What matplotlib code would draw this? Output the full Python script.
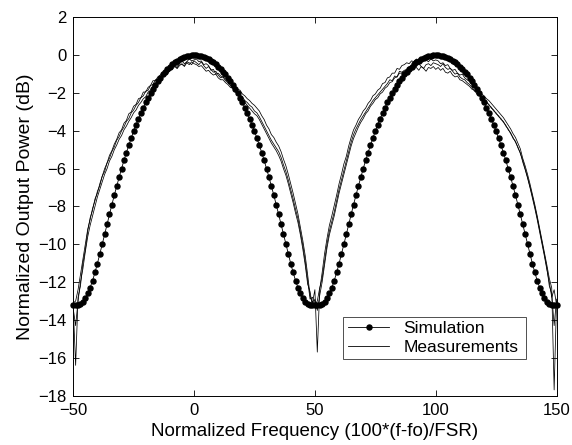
import numpy as np
import matplotlib
matplotlib.use("Agg")
import matplotlib.pyplot as plt

'''Data read off the reference figure (1 unit steps in frequency)'''
freq = np.arange(-50, 151)

sim_db = [-13.23, -13.23, -13.21, -13.14, -13.03, -12.85, -12.60, -12.29, -11.92, -11.49,
          -11.02, -10.52, -10.00, -9.47, -8.94, -8.42, -7.90, -7.40, -6.92, -6.45,
          -6.00, -5.56, -5.15, -4.76, -4.38, -4.02, -3.68, -3.36, -3.06, -2.77,
          -2.50, -2.24, -2.00, -1.78, -1.57, -1.37, -1.19, -1.02, -0.87, -0.73,
          -0.60, -0.49, -0.38, -0.29, -0.21, -0.15, -0.10, -0.05, -0.02, -0.01,
          0.00,
          -0.01, -0.02, -0.05, -0.10, -0.15, -0.21, -0.29, -0.38, -0.49, -0.60,
          -0.73, -0.87, -1.02, -1.19, -1.37, -1.57, -1.78, -2.00, -2.24, -2.50,
          -2.77, -3.06, -3.36, -3.68, -4.02, -4.38, -4.76, -5.15, -5.56, -6.00,
          -6.45, -6.92, -7.40, -7.90, -8.42, -8.94, -9.47, -10.00, -10.52, -11.02,
          -11.49, -11.92, -12.29, -12.60, -12.85, -13.03, -13.14, -13.21, -13.23, -13.23,
          -13.23, -13.21, -13.14, -13.03, -12.85, -12.60, -12.29, -11.92, -11.49, -11.02,
          -10.52, -10.00, -9.47, -8.94, -8.42, -7.90, -7.40, -6.92, -6.45, -6.00,
          -5.56, -5.15, -4.76, -4.38, -4.02, -3.68, -3.36, -3.06, -2.77, -2.50,
          -2.24, -2.00, -1.78, -1.57, -1.37, -1.19, -1.02, -0.87, -0.73, -0.60,
          -0.49, -0.38, -0.29, -0.21, -0.15, -0.10, -0.05, -0.02, -0.01, 0.00,
          -0.01, -0.02, -0.05, -0.10, -0.15, -0.21, -0.29, -0.38, -0.49, -0.60,
          -0.73, -0.87, -1.02, -1.19, -1.37, -1.57, -1.78, -2.00, -2.24, -2.50,
          -2.77, -3.06, -3.36, -3.68, -4.02, -4.38, -4.76, -5.15, -5.56, -6.00,
          -6.45, -6.92, -7.40, -7.90, -8.42, -8.94, -9.47, -10.00, -10.52, -11.02,
          -11.49, -11.92, -12.29, -12.60, -12.85, -13.03, -13.14, -13.21, -13.23, -13.23]

meas_a = [-13.3, -16.4, -12.8, -12.2, -11.0, -10.3, -9.3, -8.6, -8.2, -7.6,
          -7.3, -6.8, -6.4, -6.0, -5.7, -5.3, -5.05, -4.7, -4.45, -4.1,
          -3.95, -3.6, -3.45, -3.1, -3.0, -2.7, -2.6, -2.3, -2.25, -1.95,
          -1.95, -1.7, -1.6, -1.35, -1.35, -1.15, -1.05, -0.95, -0.9, -0.7,
          -0.75, -0.55, -0.5, -0.6, -0.4, -0.3, -0.45, -0.35, -0.2, -0.3,
          -0.25,
          -0.2, -0.35, -0.3, -0.5, -0.45, -0.55, -0.8, -0.75, -1.0, -0.95,
          -1.1, -1.15, -1.25, -1.35, -1.4, -1.55, -1.6, -1.8, -1.85, -2.05,
          -2.15, -2.3, -2.4, -2.55, -2.65, -2.8, -2.95, -3.2, -3.4, -3.7,
          -3.9, -4.2, -4.35, -4.6, -4.8, -5.1, -5.5, -5.85, -6.3, -6.8,
          -7.3, -7.85, -8.4, -9.1, -9.8, -10.6, -11.6, -12.7, -13.1, -12.4,
          -15.7, -12.4, -11.5, -10.5, -9.7, -9.0, -8.5, -7.95, -7.4, -6.8,
          -6.3, -5.75, -5.35, -4.8, -4.35, -3.95, -3.7, -3.4, -3.2, -2.95,
          -2.8, -2.55, -2.4, -2.15, -2.05, -1.85, -1.75, -1.5, -1.45, -1.2,
          -1.15, -0.95, -0.95, -0.7, -0.75, -0.55, -0.5, -0.4, -0.45, -0.3,
          -0.35, -0.2, -0.4, -0.3, -0.15, -0.25, -0.35, -0.2, -0.3, -0.25,
          -0.3, -0.45, -0.4, -0.55, -0.5, -0.7, -0.8, -0.75, -0.95, -1.05,
          -1.0, -1.2, -1.3, -1.4, -1.55, -1.65, -1.85, -1.9, -2.05, -2.15,
          -2.3, -2.4, -2.55, -2.7, -2.85, -3.0, -3.15, -3.3, -3.5, -3.7,
          -3.9, -4.15, -4.35, -4.65, -4.95, -5.45, -5.85, -6.3, -6.8, -7.35,
          -7.9, -8.5, -9.15, -9.8, -10.45, -11.1, -11.8, -12.3, -17.7, -13.0]

meas_b = [-13.1, -13.0, -12.4, -11.6, -10.8, -10.0, -9.2, -8.7, -8.1, -7.7,
          -7.2, -6.9, -6.4, -6.15, -5.7, -5.45, -5.1, -4.85, -4.5, -4.3,
          -4.0, -3.8, -3.5, -3.35, -3.05, -2.9, -2.65, -2.5, -2.25, -2.15,
          -1.9, -1.85, -1.6, -1.55, -1.3, -1.3, -1.15, -1.0, -1.05, -0.8,
          -0.85, -0.65, -0.55, -0.7, -0.45, -0.5, -0.55, -0.35, -0.4, -0.5,
          -0.3,
          -0.4, -0.5, -0.35, -0.55, -0.7, -0.6, -0.75, -0.9, -0.85, -1.05,
          -1.2, -1.15, -1.35, -1.45, -1.6, -1.6, -1.85, -1.9, -2.1, -2.2,
          -2.4, -2.5, -2.65, -2.75, -2.95, -3.05, -3.25, -3.5, -3.75, -4.0,
          -4.25, -4.5, -4.7, -4.9, -5.1, -5.4, -5.8, -6.15, -6.6, -7.1,
          -7.6, -8.15, -8.65, -9.35, -10.05, -10.9, -11.9, -12.9, -12.8, -13.2,
          -13.0, -12.3, -11.8, -10.9, -10.0, -9.3, -8.8, -8.3, -7.7, -7.1,
          -6.6, -6.1, -5.6, -5.1, -4.6, -4.2, -3.9, -3.65, -3.4, -3.2,
          -3.0, -2.8, -2.6, -2.4, -2.25, -2.1, -1.95, -1.8, -1.65, -1.5,
          -1.3, -1.35, -1.1, -1.15, -0.85, -0.9, -0.8, -0.75, -0.6, -0.65,
          -0.5, -0.55, -0.45, -0.6, -0.7, -0.5, -0.45, -0.55, -0.4, -0.45,
          -0.5, -0.6, -0.45, -0.65, -0.75, -0.7, -0.85, -1.0, -0.95, -1.15,
          -1.25, -1.3, -1.45, -1.55, -1.7, -1.9, -1.95, -2.15, -2.2, -2.4,
          -2.45, -2.65, -2.75, -2.95, -3.05, -3.25, -3.35, -3.55, -3.7, -3.95,
          -4.1, -4.4, -4.55, -4.9, -5.15, -5.65, -6.05, -6.5, -7.0, -7.55,
          -8.1, -8.7, -9.35, -10.0, -10.65, -11.35, -12.0, -12.8, -12.4, -13.2]

meas_c = [-13.4, -14.3, -13.0, -12.0, -11.3, -10.4, -9.6, -9.0, -8.5, -8.0,
          -7.5, -7.1, -6.7, -6.3, -6.0, -5.6, -5.35, -5.0, -4.75, -4.45,
          -4.25, -3.95, -3.75, -3.5, -3.3, -3.05, -2.9, -2.65, -2.5, -2.3,
          -2.2, -1.95, -1.85, -1.6, -1.55, -1.3, -1.25, -1.15, -0.95, -1.0,
          -0.8, -0.75, -0.6, -0.7, -0.55, -0.45, -0.6, -0.4, -0.5, -0.35,
          -0.45,
          -0.5, -0.6, -0.55, -0.7, -0.85, -0.8, -0.95, -1.05, -1.0, -1.2,
          -1.3, -1.3, -1.45, -1.55, -1.7, -1.75, -1.95, -2.0, -2.2, -2.35,
          -2.5, -2.65, -2.8, -2.95, -3.1, -3.2, -3.4, -3.65, -3.9, -4.15,
          -4.4, -4.65, -4.85, -5.05, -5.3, -5.6, -6.0, -6.35, -6.8, -7.3,
          -7.8, -8.35, -8.85, -9.5, -10.25, -11.1, -12.1, -12.5, -13.3, -12.9,
          -13.5, -12.7, -12.0, -11.1, -10.2, -9.5, -9.0, -8.5, -7.9, -7.3,
          -6.8, -6.3, -5.8, -5.3, -4.8, -4.4, -4.1, -3.8, -3.55, -3.35,
          -3.1, -2.95, -2.7, -2.55, -2.35, -2.25, -2.05, -1.95, -1.75, -1.65,
          -1.45, -1.4, -1.2, -1.15, -0.95, -0.95, -0.85, -0.8, -0.75, -0.6,
          -0.7, -0.65, -0.8, -0.6, -0.7, -0.85, -0.65, -0.7, -0.6, -0.75,
          -0.65, -0.8, -0.7, -0.9, -0.95, -0.85, -1.05, -1.15, -1.1, -1.3,
          -1.35, -1.45, -1.55, -1.65, -1.8, -1.85, -2.05, -2.1, -2.25, -2.35,
          -2.5, -2.6, -2.8, -2.9, -3.1, -3.2, -3.4, -3.5, -3.75, -3.9,
          -4.15, -4.35, -4.6, -4.85, -5.2, -5.55, -6.0, -6.45, -6.95, -7.45,
          -8.0, -8.6, -9.25, -9.9, -10.55, -11.25, -12.2, -12.6, -14.3, -12.9]

x_ticks = [-50, 0, 50, 100, 150]
y_ticks = [-18, -16, -14, -12, -10, -8, -6, -4, -2, 0, 2]

plt.rcParams['font.family'] = ['Liberation Sans', 'DejaVu Sans']

fig = plt.figure(figsize=(5.72, 4.45), dpi=100)
ax = fig.add_axes([0.128, 0.111, 0.845, 0.850])

# measured traces, thin black lines
for trace in (meas_a, meas_b, meas_c):
    ax.plot(freq, trace, color='black', lw=0.55, zorder=2)
meas_handle, = ax.plot([], [], color='black', lw=0.6)

sim_handle, = ax.plot(freq, sim_db, color='black', lw=0.6, marker='o',
                      markersize=3.6, markerfacecolor='black',
                      markeredgecolor='black', clip_on=False, zorder=3)

ax.set_xlim(-50, 150)
ax.set_ylim(-18, 2)
ax.set_xticks(x_ticks)
ax.set_yticks(y_ticks)
ax.tick_params(direction='in', top=True, right=True, length=4,
               width=0.6, labelsize=12, pad=5)
for s in ax.spines.values():
    s.set_linewidth(0.7)

ax.set_xlabel('Normalized Frequency (100*(f-fo)/FSR)', fontsize=13.5, labelpad=4)
ax.set_ylabel('Normalized Output Power (dB)', fontsize=14, labelpad=3)

leg = ax.legend([sim_handle, meas_handle], ['Simulation', 'Measurements'],
                loc='lower left', bbox_to_anchor=(0.559, 0.096, 0.377, 0.117),
                mode='expand', fontsize=12.5, frameon=True, fancybox=False,
                handlelength=2.4, borderpad=0.25, labelspacing=0.2,
                borderaxespad=0)
leg.get_frame().set_edgecolor('black')
leg.get_frame().set_linewidth(0.6)

fig.savefig('out.png', dpi=100)
